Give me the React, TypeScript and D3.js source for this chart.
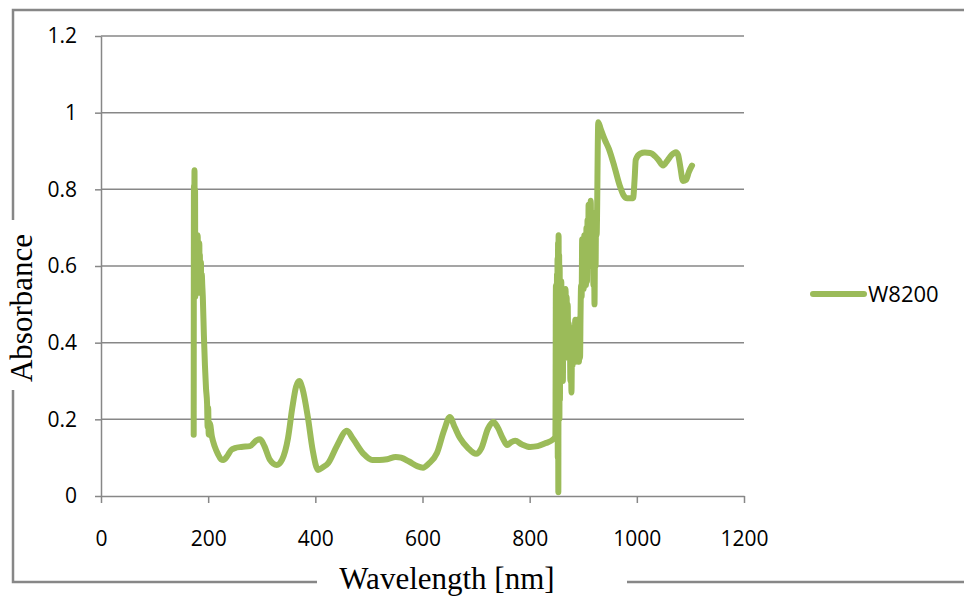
import React, { useEffect, useRef } from "react";
import * as d3 from "d3";

// W8200 absorbance spectrum
const wavelength = [
  173, 173.5, 174, 174.5, 175, 175.5, 176, 176.5, 177, 177.5, 178, 178.5, 179, 179.5, 180, 180.5,
  181, 181.5, 182, 182.5, 183, 183.5, 184, 184.5, 185, 185.5, 186, 186.5, 187, 188, 189, 190,
  192, 194, 196, 198, 199, 200, 201, 203, 207, 212, 218, 224, 228, 236, 243, 250, 262, 278,
  290, 297, 305, 315, 328, 338, 349, 357, 364, 370, 376, 386, 395, 405, 414, 424, 440, 459,
  470, 490, 506, 520, 534, 550, 560, 575, 590, 601, 612, 627, 640, 651, 660, 670, 685, 700,
  710, 722, 732, 740, 750, 758, 765, 773, 785, 801, 815, 830, 844, 848,
  849, 849.5, 850, 850.5, 851, 851.5, 852, 852.5, 853, 853.5, 854, 854.5, 855, 855.5, 856, 856.5,
  857, 857.5, 858, 858.5, 859, 860, 861, 862, 863, 864, 865, 866, 867, 868, 869, 870,
  871, 872, 873, 874, 875, 876, 877, 878, 879, 880, 881, 882, 883, 884, 885, 886,
  887, 888, 889, 890, 891, 892, 893, 894, 895, 896, 897, 898, 899, 900, 901, 902,
  903, 904, 905, 906, 907, 908, 909, 910, 911, 912, 913, 914, 915, 916, 917, 918,
  919, 920, 921, 922, 923, 924, 925, 926, 927, 928,
  932, 940, 948, 958, 968, 975, 982, 993, 996, 998, 1006, 1015, 1025, 1035, 1040, 1049,
  1057, 1065, 1073, 1077, 1081, 1086, 1092, 1097, 1103,
];
const absorbance = [
  0.16, 0.81, 0.62, 0.85, 0.55, 0.8, 0.52, 0.68, 0.54, 0.66, 0.53, 0.67, 0.55, 0.64, 0.53, 0.68,
  0.56, 0.65, 0.53, 0.62, 0.55, 0.66, 0.54, 0.63, 0.56, 0.6, 0.53, 0.61, 0.54, 0.58, 0.55, 0.52,
  0.42, 0.34, 0.28, 0.24, 0.18, 0.23, 0.16, 0.19, 0.155, 0.13, 0.11, 0.096, 0.094, 0.105, 0.12, 0.125, 0.128, 0.13,
  0.145, 0.148, 0.13, 0.095, 0.081, 0.095, 0.151, 0.23, 0.285, 0.3, 0.28, 0.206, 0.12, 0.068, 0.075, 0.086, 0.13, 0.17,
  0.15, 0.11, 0.094, 0.094, 0.096, 0.102, 0.1, 0.09, 0.078, 0.074, 0.085, 0.112, 0.17, 0.206, 0.18, 0.151, 0.125, 0.11,
  0.125, 0.175, 0.193, 0.18, 0.15, 0.133, 0.14, 0.144, 0.135, 0.128, 0.13, 0.138, 0.148, 0.155,
  0.55, 0.2, 0.5, 0.16, 0.58, 0.25, 0.62, 0.1, 0.66, 0.01, 0.68, 0.3, 0.63, 0.2, 0.6, 0.25,
  0.55, 0.3, 0.5, 0.35, 0.56, 0.32, 0.5, 0.3, 0.53, 0.4, 0.5, 0.36, 0.54, 0.42, 0.52, 0.4,
  0.5, 0.38, 0.45, 0.36, 0.42, 0.3, 0.4, 0.27, 0.38, 0.34, 0.43, 0.35, 0.44, 0.36, 0.46, 0.35,
  0.43, 0.36, 0.46, 0.37, 0.44, 0.35, 0.42, 0.36, 0.48, 0.55, 0.52, 0.67, 0.55, 0.66, 0.54, 0.68,
  0.56, 0.65, 0.55, 0.7, 0.56, 0.72, 0.6, 0.76, 0.62, 0.74, 0.6, 0.77, 0.64, 0.72, 0.6, 0.7,
  0.55, 0.72, 0.5, 0.66, 0.6, 0.74, 0.68, 0.76, 0.9, 0.975,
  0.96, 0.93, 0.905, 0.86, 0.81, 0.785, 0.777, 0.777, 0.83, 0.877, 0.893, 0.896, 0.895, 0.885, 0.877, 0.862,
  0.875, 0.89, 0.897, 0.89, 0.86, 0.822, 0.825, 0.845, 0.862,
];
const xTicks = [0, 200, 400, 600, 800, 1000, 1200];
const yTicks = [0, 0.2, 0.4, 0.6, 0.8, 1, 1.2];
const seriesName = "W8200";

const green = "#9bbb59";
const gray = "#878787";
const tickFont = "'Open Sans', 'Liberation Sans', sans-serif";
const titleFont = "'Liberation Serif', 'DejaVu Serif', serif";

export default function App() {
  const ref = useRef<SVGSVGElement | null>(null);

  useEffect(() => {
    const svg = d3.select(ref.current);
    svg.selectAll("*").remove();

    const x = d3.scaleLinear().domain([0, 1200]).range([101, 744]);
    const y = d3.scaleLinear().domain([0, 1.2]).range([496, 36]);

    // outer frame with gaps for the axis titles
    const frame = svg.append("g").attr("stroke", gray).attr("stroke-width", 2.5).attr("fill", "none");
    frame.append("path").attr("d", "M964,10 H13 V220");
    frame.append("path").attr("d", "M13,390 V582 H317");
    frame.append("path").attr("d", "M627,582 H964");

    // gridlines
    svg.append("g").selectAll("line")
      .data(yTicks.filter(d => d > 0))
      .join("line")
      .attr("x1", x(0)).attr("x2", x(1200))
      .attr("y1", d => y(d)).attr("y2", d => y(d))
      .attr("stroke", gray).attr("stroke-width", 1.5);

    const yAxis = svg.append("g")
      .attr("transform", `translate(${x(0)},0)`)
      .call(d3.axisLeft(y).tickValues(yTicks).tickSize(6).tickSizeOuter(0).tickPadding(18)
        .tickFormat(d => String(d)));
    const xAxis = svg.append("g")
      .attr("transform", `translate(0,${y(0)})`)
      .call(d3.axisBottom(x).tickValues(xTicks).tickSize(7).tickSizeOuter(0).tickPadding(28)
        .tickFormat(d => String(d)));
    [yAxis, xAxis].forEach(ax => {
      ax.select(".domain").attr("stroke", gray).attr("stroke-width", 1.5);
      ax.selectAll(".tick line").attr("stroke", gray).attr("stroke-width", 1.5);
      ax.selectAll(".tick text").attr("fill", "#000").style("font-family", tickFont).style("font-size", "21px");
    });

    const line = d3.line<number>()
      .x((d, i) => x(wavelength[i]))
      .y(d => y(d))
      .curve(d3.curveMonotoneX);
    svg.append("path")
      .datum(absorbance)
      .attr("d", line)
      .attr("fill", "none")
      .attr("stroke", green)
      .attr("stroke-width", 6)
      .attr("stroke-linejoin", "round")
      .attr("stroke-linecap", "round");

    // legend
    svg.append("line")
      .attr("x1", 813).attr("x2", 864).attr("y1", 294).attr("y2", 294)
      .attr("stroke", green).attr("stroke-width", 6).attr("stroke-linecap", "round");
    svg.append("text")
      .attr("x", 868).attr("y", 294).attr("dy", "0.36em")
      .style("font-family", tickFont).style("font-size", "22px")
      .text(seriesName);

    // axis titles
    svg.append("text")
      .attr("x", 447).attr("y", 589)
      .attr("text-anchor", "middle")
      .style("font-family", titleFont).style("font-size", "31px")
      .text("Wavelength [nm]");
    svg.append("text")
      .attr("transform", "translate(32,308) rotate(-90)")
      .attr("text-anchor", "middle")
      .style("font-family", titleFont).style("font-size", "31px")
      .text("Absorbance");
  }, []);

  return (
    <svg ref={ref} width={964} height={599}
      style={{ position: "absolute", left: 0, top: 0, background: "#fff" }} />
  );
}
